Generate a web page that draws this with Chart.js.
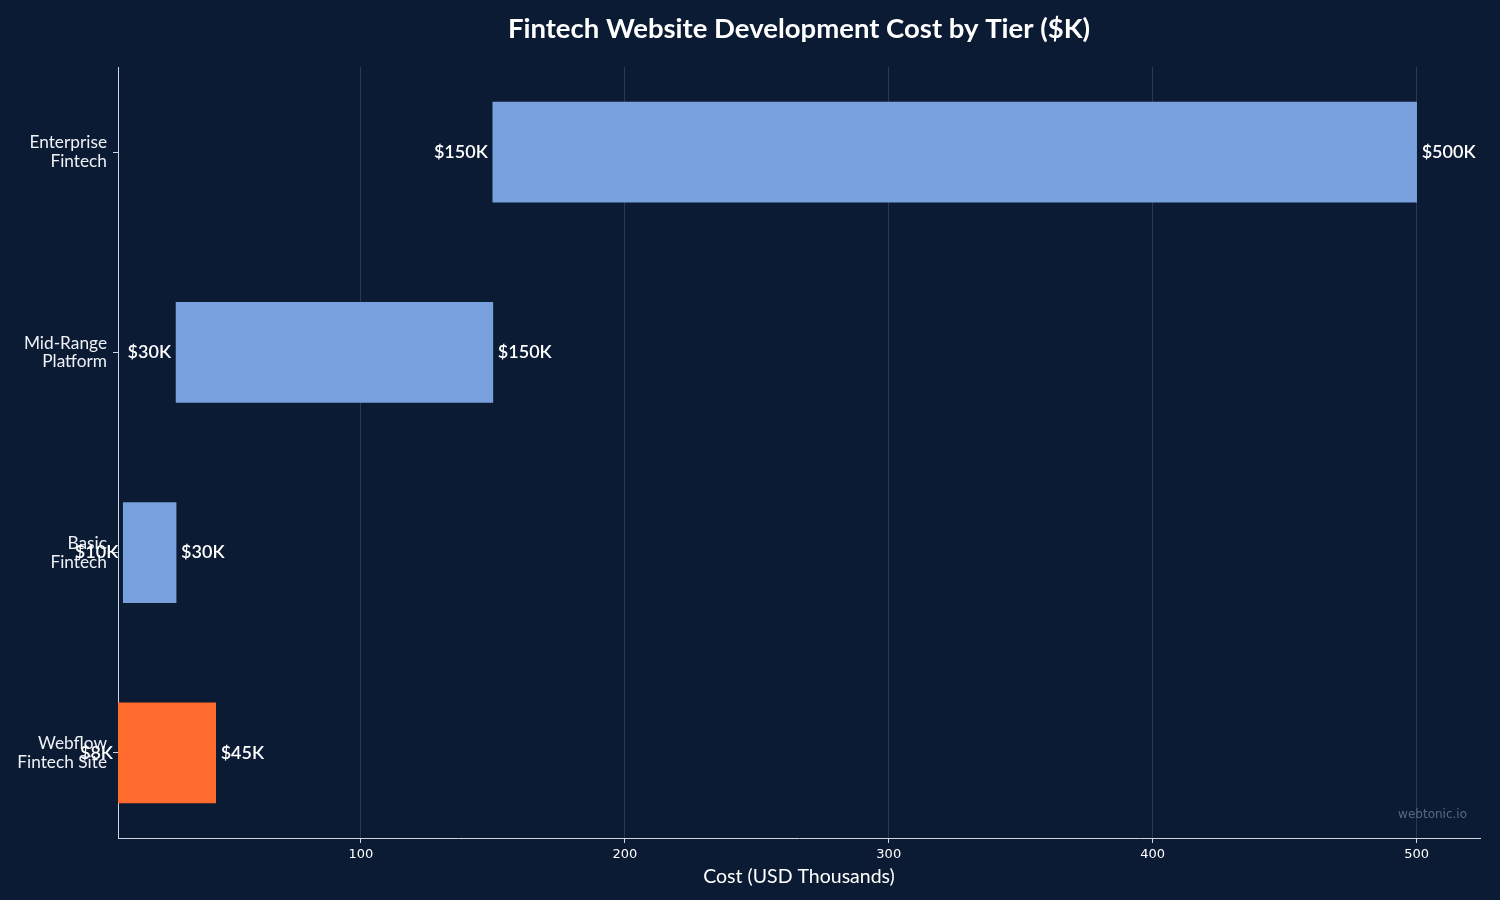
<!DOCTYPE html>
<html>
<head>
<meta charset="utf-8">
<script src="https://cdn.jsdelivr.net/npm/chart.js@4.4.1/dist/chart.umd.min.js"></script>
<style>
  html, body { margin: 0; padding: 0; background: #0c1b34; }
  #wrap { width: 1500px; height: 900px; }
</style>
</head>
<body>
<div id="wrap"><canvas id="costChart"></canvas></div>
<script>
// tiers, top to bottom
const tiers = [
  ['Enterprise', 'Fintech'],
  ['Mid-Range', 'Platform'],
  ['Basic', 'Fintech'],
  ['Webflow', 'Fintech Site']
];
const costLow = [150, 30, 10, 8];
const costHigh = [500, 150, 30, 45];
const xTicks = [100, 200, 300, 400, 500];
const barColors = ['#77a0dc', '#77a0dc', '#77a0dc', '#ff6b2c'];

const fmt = v => '$' + v + 'K';

// start / end value labels beside each bar
const rangeLabels = {
  id: 'rangeLabels',
  afterDatasetsDraw(chart) {
    const ctx = chart.ctx;
    const meta = chart.getDatasetMeta(0);
    ctx.save();
    ctx.font = '600 18px Lato';
    ctx.fillStyle = '#ffffff';
    ctx.textBaseline = 'middle';
    meta.data.forEach((bar, i) => {
      const p = bar.getProps(['x', 'y', 'base'], true);
      ctx.textAlign = 'right';
      ctx.fillText(fmt(costLow[i]), p.base - 5, p.y);
      ctx.textAlign = 'left';
      ctx.fillText(fmt(costHigh[i]), p.x + 5, p.y);
    });
    ctx.restore();
  }
};

const watermark = {
  id: 'watermark',
  afterDraw(chart) {
    const { ctx, chartArea } = chart;
    ctx.save();
    ctx.font = '12px "DejaVu Sans"';
    ctx.fillStyle = '#5a6883';
    ctx.textAlign = 'right';
    ctx.textBaseline = 'middle';
    ctx.fillText('webtonic.io', chartArea.right - 13, chartArea.bottom - 23);
    ctx.restore();
  }
};

new Chart(document.getElementById('costChart'), {
  type: 'bar',
  data: {
    datasets: [{
      data: tiers.map((t, i) => ({ y: i, x: [costLow[i], costHigh[i]] })),
      backgroundColor: barColors,
      borderWidth: 0,
      barThickness: 100
    }]
  },
  options: {
    indexAxis: 'y',
    responsive: true,
    maintainAspectRatio: false,
    animation: false,
    layout: { padding: { left: 0, right: 20, top: 0, bottom: 0 } },
    plugins: {
      legend: { display: false },
      tooltip: { enabled: false },
      title: {
        display: true,
        fullSize: false,
        text: 'Fintech Website Development Cost by Tier ($K)',
        color: '#ffffff',
        font: { family: 'Lato', size: 27.5, weight: 'bold' },
        padding: { top: 13, bottom: 21 }
      }
    },
    scales: {
      x: {
        type: 'linear',
        min: 8,
        max: 524,
        afterBuildTicks: s => { s.ticks = xTicks.map(v => ({ value: v })); },
        afterFit: s => { s.height = 62; },
        grid: {
          color: 'rgba(255,255,255,0.13)',
          tickColor: '#cfd6e0',
          tickLength: 5
        },
        border: { display: true, color: '#cfd6e0', width: 1 },
        ticks: {
          color: '#ffffff',
          padding: 4,
          font: { family: 'DejaVu Sans', size: 13 }
        },
        title: {
          display: true,
          text: 'Cost (USD Thousands)',
          color: '#ffffff',
          font: { family: 'Lato', size: 19.5 },
          padding: { top: 0, bottom: 12 }
        }
      },
      y: {
        type: 'linear',
        reverse: true,
        offset: false,
        min: -0.425,
        max: 3.425,
        afterBuildTicks: s => { s.ticks = tiers.map((t, i) => ({ value: i })); },
        afterFit: s => { s.width = 118; },
        grid: {
          offset: false,
          drawOnChartArea: false,
          tickColor: '#cfd6e0',
          tickLength: 5
        },
        border: { display: true, color: '#cfd6e0', width: 1 },
        ticks: {
          color: '#eef1f6',
          padding: 6,
          font: { family: 'Lato', size: 17.3, lineHeight: 1.08 },
          callback: v => tiers[v]
        }
      }
    }
  },
  plugins: [rangeLabels, watermark]
});
</script>
</body>
</html>
